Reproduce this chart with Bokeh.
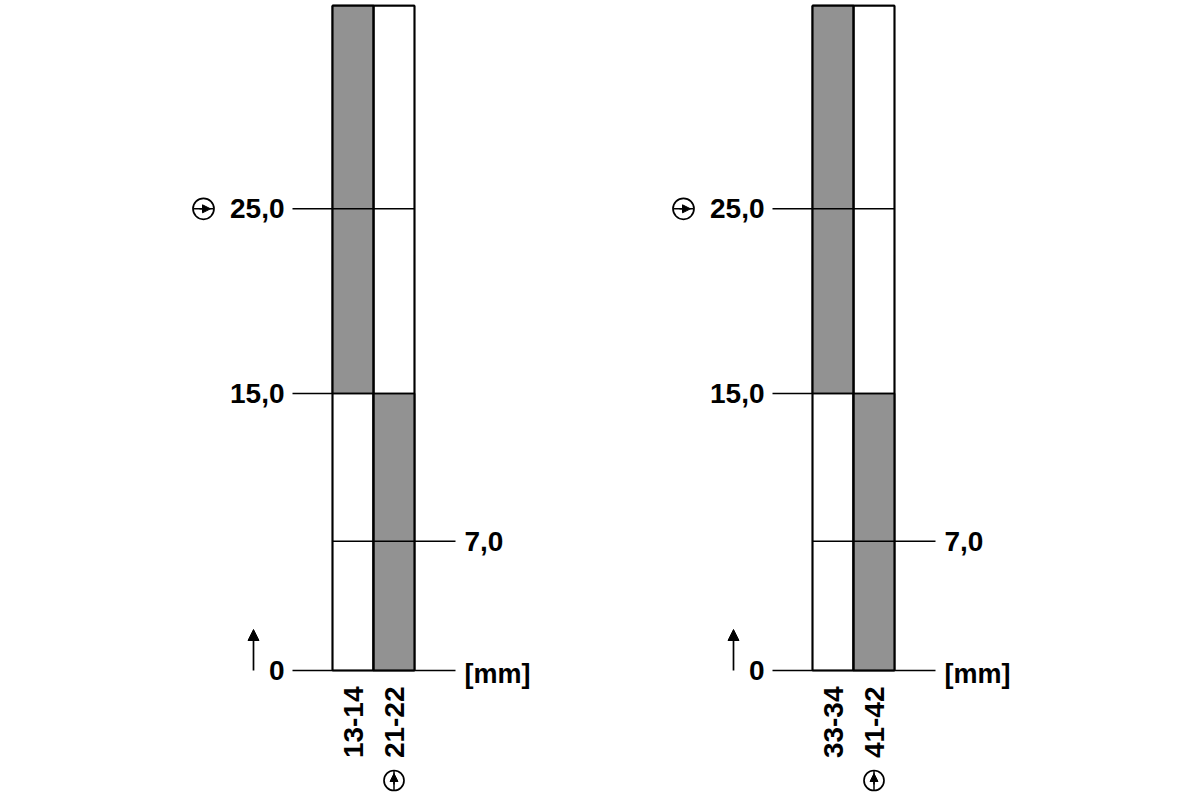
import math
from bokeh.plotting import figure
from bokeh.models import Range1d, Arrow, NormalHead
from bokeh.core.properties import value
from bokeh.embed import file_html
from bokeh.resources import INLINE

# ---------------- data ----------------
travel_max = 36.0                                   # mm, top of the diagram
contacts_panel1 = ["13-14", "21-22"]
contacts_panel2 = ["33-34", "41-42"]
closed_from = [15.0, 0.0]                           # per column: grey (closed) segment start
closed_to = [36.0, 15.0]                            # per column: grey (closed) segment end
left_tick_values = [25.0, 15.0, 0.0]
left_tick_labels = ["25,0", "15,0", "0"]
right_tick_values = [7.0]
right_tick_labels = ["7,0"]
positive_opening_value = 25.0
unit_label = "[mm]"

# ---------------- layout ----------------
W, H = 1184, 792
PXU = 41.0                    # px per column unit
PYU = 18.467                  # px per mm
X0 = -332 / PXU
X1 = X0 + W / PXU
Y1 = 670 / PYU
Y0 = Y1 - H / PYU
GREY = "#929292"
FONT = value("Liberation Sans")
FS = "28px"

p = figure(width=W, height=H, x_range=Range1d(X0, X1), y_range=Range1d(Y0, Y1),
           x_axis_type=None, y_axis_type=None, output_backend="svg",
           toolbar_location=None, min_border=0)
p.grid.visible = False
p.outline_line_color = None
p.background_fill_color = "white"


def dy(px):
    return px / PYU


def dx(px):
    return px / PXU


panel_offsets = [0.0, 480 / PXU]
panels = [contacts_panel1, contacts_panel2]

for off, contacts in zip(panel_offsets, panels):
    n = len(contacts)
    lefts = [off + i for i in range(n)]
    rights = [off + i + 1 for i in range(n)]
    p.quad(left=lefts, right=rights, bottom=[0.0] * n, top=[travel_max] * n,
           fill_color="white", line_color="black", line_width=1.7)
    p.quad(left=lefts, right=rights, bottom=closed_from, top=closed_to,
           fill_color=GREY, line_color="black", line_width=1.7)
    p.quad(left=lefts, right=rights, bottom=[0.0] * n, top=[travel_max] * n,
           fill_color=None, line_color="black", line_width=1.7)

    # reference lines
    xs0, xs1, ys = [], [], []
    for v in sorted(set(left_tick_values + right_tick_values)):
        start = off - dx(40) if v in left_tick_values else off
        end = off + dx(123) if (v in right_tick_values or v == 0.0) else off + n
        xs0.append(start)
        xs1.append(end)
        ys.append(v)
    p.segment(x0=xs0, y0=ys, x1=xs1, y1=ys, line_color="black", line_width=1.5)

    # left tick labels
    p.text(x=[off - dx(48)] * len(left_tick_values), y=left_tick_values, text=left_tick_labels,
           text_align="right", text_baseline="middle", text_font=FONT, text_font_size=FS,
           text_font_style="bold", text_color="black")
    # right tick labels
    p.text(x=[off + dx(132)] * len(right_tick_values), y=right_tick_values, text=right_tick_labels,
           text_align="left", text_baseline="middle", text_font=FONT, text_font_size=FS,
           text_font_style="bold", text_color="black")
    # unit
    p.text(x=[off + dx(132)], y=[0.0 - dy(3)], text=[unit_label], text_align="left",
           text_baseline="middle", text_font=FONT, text_font_size="27px",
           text_font_style="bold", text_color="black")

    # contact labels (rotated)
    p.text(x=[off + i + 0.5 for i in range(n)], y=[-dy(16)] * n,
           text=contacts, angle=math.pi / 2, text_align="right", text_baseline="middle",
           text_font=FONT, text_font_size=FS, text_font_style="bold", text_color="black")

    # travel direction arrow
    ax = off - dx(79)
    p.add_layout(Arrow(end=NormalHead(size=11, fill_color="black", line_color="black"),
                       x_start=ax, y_start=0.0, x_end=ax, y_end=dy(41),
                       line_color="black", line_width=1.7))

    # positive opening symbol next to 25,0 (arrow to the right)
    cx, cy = off - dx(129), positive_opening_value
    p.scatter(x=[cx], y=[cy], marker="circle", size=21, fill_color="white",
              line_color="black", line_width=1.7)
    p.segment(x0=[cx - dx(10)], y0=[cy], x1=[cx + dx(10)], y1=[cy],
              line_color="black", line_width=1.5)
    p.add_layout(Arrow(end=NormalHead(size=8, fill_color="black", line_color="black"),
                       x_start=cx - dx(4), y_start=cy, x_end=cx + dx(7), y_end=cy,
                       line_color="black", line_width=1.5))

    # positive opening symbol under the NC contact label (arrow upwards)
    bx, by = off + 1.5, -dy(110)
    p.scatter(x=[bx], y=[by], marker="circle", size=20, fill_color="white",
              line_color="black", line_width=1.7)
    p.segment(x0=[bx], y0=[by - dy(9.5)], x1=[bx], y1=[by + dy(9.5)],
              line_color="black", line_width=1.5)
    p.add_layout(Arrow(end=NormalHead(size=8, fill_color="black", line_color="black"),
                       x_start=bx, y_start=by - dy(4), x_end=bx, y_end=by + dy(7),
                       line_color="black", line_width=1.5))

open("out.html", "w").write(file_html(p, INLINE))
